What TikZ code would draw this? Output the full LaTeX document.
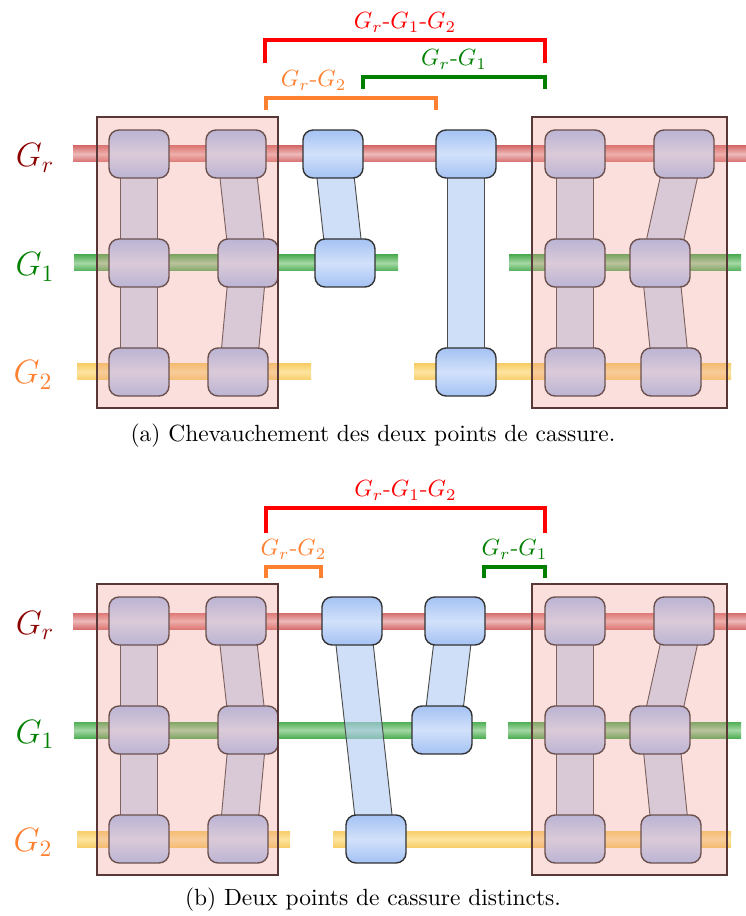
\documentclass[tikz,border=0pt]{standalone}
\usepackage{amsmath}
\usepackage{xcolor}
\usepackage{tikz}
\usetikzlibrary{calc}
\definecolor{trRa}{RGB}{214,110,110}
\definecolor{trRb}{RGB}{238,185,185}
\definecolor{trGa}{RGB}{80,175,85}
\definecolor{trGb}{RGB}{165,215,165}
\definecolor{trYa}{RGB}{248,206,105}
\definecolor{trYb}{RGB}{252,228,160}
\definecolor{geneA}{RGB}{164,194,244}
\definecolor{geneB}{RGB}{210,225,250}
\definecolor{linkfill}{RGB}{175,202,243}
\definecolor{boxpink}{RGB}{240,150,140}
\definecolor{boxline}{RGB}{90,55,55}
\definecolor{grR}{RGB}{140,0,0}
\definecolor{grG}{RGB}{0,128,0}
\definecolor{grO}{RGB}{255,128,48}
\tikzset{
  gene/.style={rectangle, draw=black!80, line width=0.6pt, rounded corners=0.15cm,
               minimum width=0.9cm, minimum height=0.72cm, inner sep=0pt,
               top color=geneA, bottom color=geneA, middle color=geneB},
  link/.style={draw=black!70, line width=0.4pt, fill=linkfill, fill opacity=0.6},
  cbox/.style={draw=boxline, line width=0.6pt, fill=boxpink, fill opacity=0.3},
  trR/.style={top color=trRa, bottom color=trRa, middle color=trRb},
  trG/.style={top color=trGa, bottom color=trGa, middle color=trGb},
  trY/.style={top color=trYa, bottom color=trYa, middle color=trYb},
  brk/.style={line width=1.4pt},
  blab/.style={above, inner sep=2.5pt},
  glab/.style={font=\Large}
}
\newcommand{\genelink}[2]{\draw[link] ([xshift=-0.28cm]#1.center) -- ([xshift=-0.28cm]#2.center)
  -- ([xshift=0.28cm]#2.center) -- ([xshift=0.28cm]#1.center) -- cycle;}
\pgfdeclarelayer{tracks}
\pgfdeclarelayer{links}
\pgfsetlayers{tracks,links,main}

\begin{document}
\begin{tikzpicture}[x=0.015cm, y=-0.015cm]
  \useasboundingbox (0,0) rectangle (746,916);
  \begin{pgfonlayer}{tracks}
    \foreach \s/\xa/\xb/\y in {trR/73/746/154, trG/74/398/263, trG/509/741/263,
        trY/77/311/372, trY/414/731/372, trR/73/746/621, trG/74/486/730,
        trG/508/741/730, trY/77/290/839, trY/333/731/839}
      \shade[\s] (\xa,\y-8) rectangle (\xb,\y+8);
  \end{pgfonlayer}
  \foreach \p/\dy in {a/0, b/467} {
    \foreach \c/\xa/\xb/\xc in {1/139/139/139, 2/236/248/238, 3/575/575/575, 4/684/660/671} {
      \node[gene] (\p\c1) at (\xa,154+\dy) {};
      \node[gene] (\p\c2) at (\xb,263+\dy) {};
      \node[gene] (\p\c3) at (\xc,372+\dy) {};
    }
    \node[glab, text=grR] (\p r) at (35,158+\dy) {$G_r$};
    \node[glab, text=grG] (\p g1) at (35,267+\dy) {$G_1$};
    \node[glab, text=grO] (\p g2) at (33,375+\dy) {$G_2$};
  }
  \node[gene] (ab1) at (333,154) {};
  \node[gene] (ab2) at (345,263) {};
  \node[gene] (ab3) at (466,154) {};
  \node[gene] (ab4) at (466,372) {};
  \node[gene] (bb1) at (352,621) {};
  \node[gene] (bb2) at (376,839) {};
  \node[gene] (bb3) at (455,621) {};
  \node[gene] (bb4) at (442,730) {};
  \begin{pgfonlayer}{links}
    \foreach \p in {a,b}
      \foreach \c in {1,...,4} {
        \genelink{\p\c1}{\p\c2}
        \genelink{\p\c2}{\p\c3}
      }
    \foreach \u/\v in {ab1/ab2, ab3/ab4, bb1/bb2, bb3/bb4} {\genelink{\u}{\v}}
  \end{pgfonlayer}
  \foreach \dy in {0,467} {
    \draw[cbox] (97,117+\dy) rectangle (278,408+\dy);
    \draw[cbox] (532,117+\dy) rectangle (727,408+\dy);
  }
  \draw[brk, red] (265,63) |- node[blab, pos=0.75] {$G_r$-$G_1$-$G_2$} (545,40) -- (545,63);
  \draw[brk, grG] (363,89) |- node[blab, pos=0.75] {$G_r$-$G_1$} (545,77) -- (545,89);
  \draw[brk, grO] (266,110) |- node[blab, pos=0.64] {$G_r$-$G_2$} (436,98) -- (436,110);
  \node (capa) at (373,436) {(a) Chevauchement des deux points de cassure.};
  \draw[brk, red] (266,533) |- node[blab, pos=0.75] {$G_r$-$G_1$-$G_2$} (545,508) -- (545,533);
  \draw[brk, grO] (266,578) |- node[blab, pos=0.75] {$G_r$-$G_2$} (321,567) -- (321,578);
  \draw[brk, grG] (484,578) |- node[blab, pos=0.75] {$G_r$-$G_1$} (545,567) -- (545,578);
  \node (capb) at (373,900) {(b) Deux points de cassure distincts.};
\end{tikzpicture}
\end{document}
